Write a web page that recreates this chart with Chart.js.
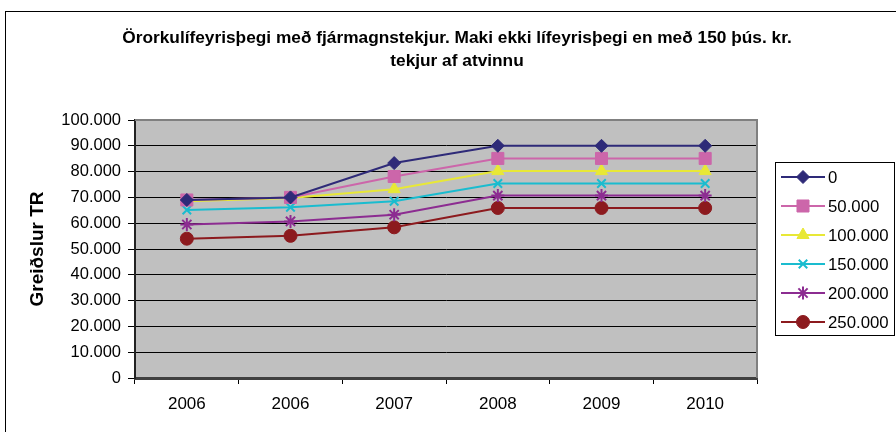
<!DOCTYPE html>
<html>
<head>
<meta charset="utf-8">
<script src="https://cdn.jsdelivr.net/npm/chart.js@4/dist/chart.umd.min.js"></script>
<style>
html,body{margin:0;padding:0;background:#fff;}
#wrap{position:relative;width:896px;height:432px;}
canvas{display:block;}
</style>
</head>
<body>
<div id="wrap"><canvas id="c" width="896" height="432"></canvas></div>
<script>
const categories = ['2006','2006','2007','2008','2009','2010'];
const seriesNames = ['0','50.000','100.000','150.000','200.000','250.000'];
const s0   = [69000, 70000, 83300, 90000, 90000, 90000];
const s50  = [69000, 70000, 78100, 85100, 85100, 85100];
const s100 = [68500, 69800, 73200, 80200, 80200, 80200];
const s150 = [65100, 66200, 68500, 75400, 75400, 75400];
const s200 = [59500, 60700, 63300, 70700, 70700, 70700];
const s250 = [54000, 55100, 58400, 65900, 65900, 65900];
const titleLines = ['Örorkulífeyrisþegi með fjármagnstekjur. Maki ekki lífeyrisþegi en með 150 þús. kr.', 'tekjur af atvinnu'];
const yTitle = 'Greiðslur TR';

const FONT = "'Liberation Sans', Arial, sans-serif";
const colors = ['#2e2a78','#cc66aa','#e8e836','#1abccf','#8c2c91','#8c1a1e'];
const styles = [
  {pointStyle:'rectRot', radius:6.5, bw:1},
  {pointStyle:'rect', radius:8.5, bw:1},
  {pointStyle:'triangle', radius:7, bw:1},
  {pointStyle:'crossRot', radius:6, bw:2},
  {pointStyle:'star', radius:6.5, bw:2},
  {pointStyle:'circle', radius:6.5, bw:1}
];
const values = [s0, s50, s100, s150, s200, s250];

const datasets = values.map((v, i) => ({
  label: seriesNames[i],
  data: v,
  borderColor: colors[i],
  backgroundColor: colors[i],
  borderWidth: 2,
  pointStyle: styles[i].pointStyle,
  pointRadius: styles[i].radius,
  pointHoverRadius: styles[i].radius,
  pointBorderWidth: styles[i].bw,
  pointBackgroundColor: colors[i],
  pointBorderColor: colors[i],
  tension: 0
}));

function fmt(v){
  return String(v).replace(/\B(?=(\d{3})+(?!\d))/g, '.');
}

const decor = {
  id: 'decor',
  beforeDraw(chart){
    const {ctx, chartArea:a} = chart;
    ctx.save();
    ctx.fillStyle = '#fff';
    ctx.fillRect(0,0,chart.width,chart.height);
    ctx.strokeStyle = '#000';
    ctx.lineWidth = 1;
    ctx.strokeRect(5.5, 11.5, 960, 500);
    ctx.fillStyle = '#c0c0c0';
    ctx.fillRect(a.left, a.top, a.right - a.left, a.bottom - a.top);
    ctx.restore();
  },
  afterDatasetsDraw(chart){
    const {ctx, chartArea:a} = chart;
    ctx.save();
    // top and right plot border
    ctx.strokeStyle = '#808080';
    ctx.lineWidth = 2;
    ctx.beginPath();
    ctx.moveTo(a.left, a.top);
    ctx.lineTo(a.right, a.top);
    ctx.lineTo(a.right, a.bottom);
    ctx.stroke();
    // title
    ctx.fillStyle = '#000';
    ctx.font = 'bold 17.3px ' + FONT;
    ctx.textAlign = 'center';
    ctx.textBaseline = 'alphabetic';
    ctx.fillText(titleLines[0], 457, 43);
    ctx.fillText(titleLines[1], 457, 66);
    // legend
    const lx = 775, ly = 162, lw = 119, lh = 173;
    ctx.strokeStyle = '#000';
    ctx.lineWidth = 1;
    ctx.strokeRect(lx + 0.5, ly + 0.5, lw, lh);
    const startY = 177, step = 29;
    ctx.font = '16.8px ' + FONT;
    ctx.textAlign = 'left';
    ctx.textBaseline = 'middle';
    chart.data.datasets.forEach((ds, i) => {
      const y = startY + i * step;
      ctx.strokeStyle = ds.borderColor;
      ctx.lineWidth = 2;
      ctx.beginPath();
      ctx.moveTo(781, y);
      ctx.lineTo(825, y);
      ctx.stroke();
      ctx.fillStyle = ds.pointBackgroundColor;
      ctx.strokeStyle = ds.pointBorderColor;
      ctx.lineWidth = ds.pointBorderWidth;
      Chart.helpers.drawPoint(ctx, {pointStyle: ds.pointStyle, radius: ds.pointRadius, rotation: 0, borderWidth: ds.pointBorderWidth}, 803, y);
      ctx.fillStyle = '#000';
      ctx.fillText(ds.label, 828, y + 1);
    });
    ctx.restore();
  }
};

new Chart(document.getElementById('c'), {
  type: 'line',
  data: { labels: categories, datasets },
  options: {
    responsive: false,
    animation: false,
    events: [],
    layout: { padding: { left: 0, right: 139, top: 120, bottom: 0 } },
    plugins: { legend: { display: false }, title: { display: false }, tooltip: { enabled: false } },
    scales: {
      x: {
        offset: true,
        grid: { display: true, drawOnChartArea: false, offset: true, tickLength: 6, color: '#000', lineWidth: 1 },
        border: { display: true, color: '#404040', width: 3 },
        ticks: { color: '#000', font: { family: FONT, size: 17 }, padding: 10, maxRotation: 0, autoSkip: false },
        afterFit(s){ s.height = 54; }
      },
      y: {
        min: 0, max: 100000,
        grid: { color: '#000', lineWidth: 1, tickLength: 7 },
        border: { display: true, color: '#222', width: 2 },
        ticks: { stepSize: 10000, color: '#000', font: { family: FONT, size: 16.5 }, padding: 7, callback: v => fmt(v) },
        title: { display: true, text: yTitle, color: '#000', font: { family: FONT, size: 19, weight: 'bold' }, padding: { top: 26, bottom: 0 } },
        afterFit(s){ s.width = 135; }
      }
    }
  },
  plugins: [decor]
});
</script>
</body>
</html>
